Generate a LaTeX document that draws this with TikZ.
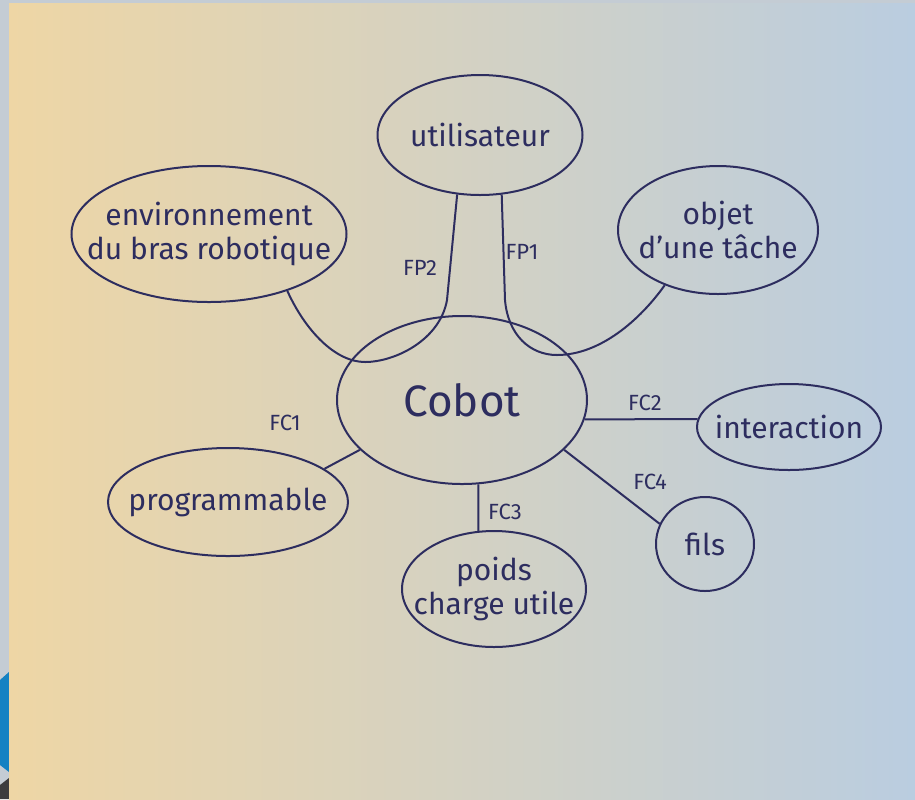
\documentclass[tikz,border=0pt]{standalone}
\usepackage{fontspec}
\setmainfont{Fira Sans}
\usetikzlibrary{shapes.geometric}

\definecolor{ink}{RGB}{45,45,95}
\definecolor{paperL}{RGB}{238,214,165}
\definecolor{paperM}{RGB}{216,206,190}
\definecolor{paperR}{RGB}{186,205,224}
\definecolor{edgegray}{RGB}{196,204,212}
\definecolor{cornerblue}{RGB}{20,130,195}
\definecolor{cornerdark}{RGB}{60,60,62}

\begin{document}
\begin{tikzpicture}[x=0.5pt, y=-0.5pt,
	bubble/.style={ellipse, draw=ink, line width=1pt, inner sep=-40pt, text=ink, align=center, font=\fontsize{15}{17}\selectfont},
	link/.style={draw=ink, line width=1pt},
	fn/.style={text=ink, font=\fontsize{11}{13}\selectfont}]
	
	% sheet of paper
	\fill[edgegray] (0,0) rectangle (915,799);
	\fill[cornerblue] (0,680) -- (9,672) -- (9,772) -- (0,765) -- cycle;
	\fill[cornerdark] (0,785) -- (9,778) -- (9,799) -- (0,799) -- cycle;
	\shade[left color=paperL, middle color=paperM, right color=paperR] (9,3) rectangle (915,799);
	
	% elements around the cobot
	\node[bubble, minimum width=102.5pt, minimum height=60pt] (uti) at (480,135) {utilisateur};
	\node[bubble, minimum width=137.5pt, minimum height=68pt] (env) at (209,234) {environnement\\du bras robotique};
	\node[bubble, minimum width=100pt, minimum height=64pt] (obj) at (718,230) {objet\\d'une tâche};
	\node[bubble, minimum width=125pt, minimum height=84pt, font=\fontsize{22}{26}\selectfont] (cobot) at (462,400) {Cobot};
	\node[bubble, minimum width=92pt, minimum height=43pt] (inter) at (789,427) {interaction};
	\node[bubble, minimum width=120pt, minimum height=54pt] (prog) at (228,502) {programmable};
	\node[bubble, minimum width=92pt, minimum height=58pt] (poids) at (494,589) {poids\\charge utile};
	\node[bubble, minimum width=49pt, minimum height=47pt] (fils) at (705,544) {fils};
	
	% principal functions
	\draw[link] (uti.-111) -- (447,300) .. controls (440,340) and (395,362) .. (365,362) .. controls (335,362) and (305,330) .. (env.-36);
	\draw[link] (uti.-70) -- (505,300) .. controls (508,335) and (530,355) .. (557,355) .. controls (600,355) and (640,320) .. (obj.226);
	\node[fn] (fp2) at (420,268) {FP2};
	\node[fn] (fp1) at (522,252) {FP1};
	
	% constraint functions
	\draw[link] (prog.19) -- (cobot.206);
	\draw[link] (cobot.-9) -- (inter.175);
	\draw[link] (cobot.-79) -- (poids.105);
	\draw[link] (cobot.-26) -- (fils.156);
	\node[fn] (fc1) at (285,423) {FC1};
	\node[fn] (fc2) at (645,403) {FC2};
	\node[fn] (fc3) at (505,512) {FC3};
	\node[fn] (fc4) at (650,482) {FC4};
	
\end{tikzpicture}
\end{document}
